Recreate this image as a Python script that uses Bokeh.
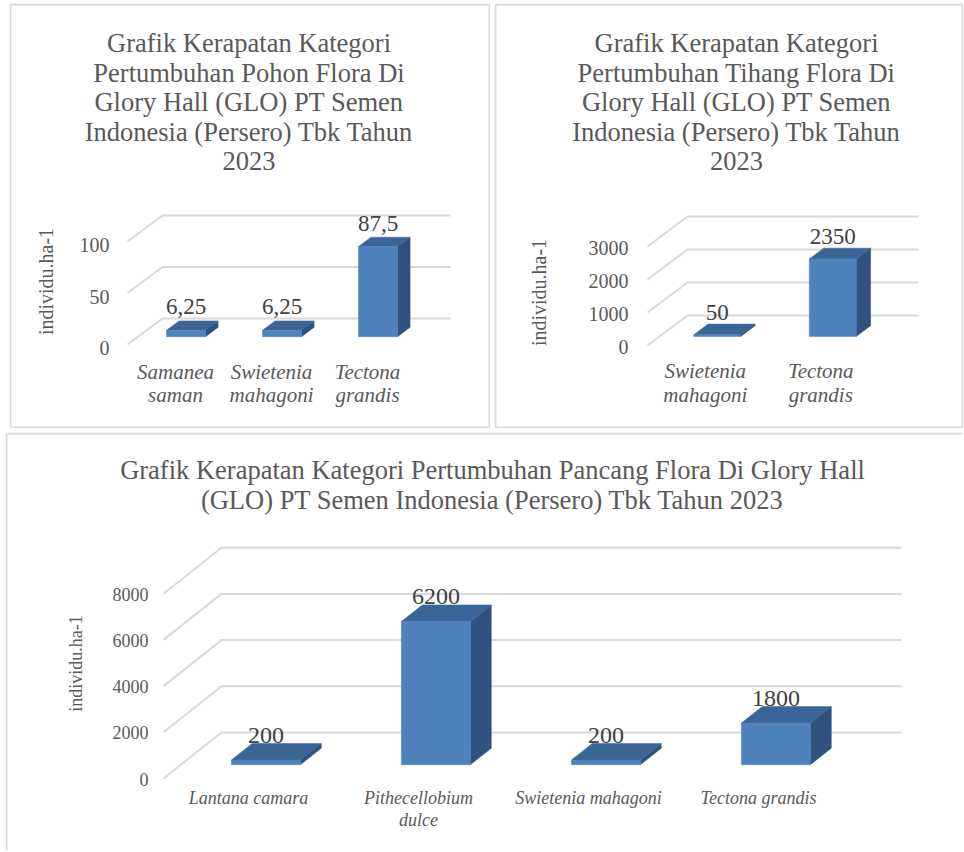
import math
from bokeh.plotting import figure
from bokeh.models import Range1d, Spacer
from bokeh.layouts import column, row
from bokeh.core.properties import value
from bokeh.embed import file_html
from bokeh.resources import INLINE

# ---------------- data ----------------
pohon_categories = ["Samanea\nsaman", "Swietenia\nmahagoni", "Tectona\ngrandis"]
pohon_values = [6.25, 6.25, 87.5]
pohon_value_labels = ["6,25", "6,25", "87,5"]
pohon_ticks = [0, 50, 100]
pohon_title = ["Grafik Kerapatan Kategori", "Pertumbuhan Pohon Flora Di",
               "Glory Hall (GLO) PT Semen", "Indonesia (Persero) Tbk Tahun", "2023"]

tihang_categories = ["Swietenia\nmahagoni", "Tectona\ngrandis"]
tihang_values = [50, 2350]
tihang_value_labels = ["50", "2350"]
tihang_ticks = [0, 1000, 2000, 3000]
tihang_title = ["Grafik Kerapatan Kategori", "Pertumbuhan Tihang Flora Di",
                "Glory Hall (GLO) PT Semen", "Indonesia (Persero) Tbk Tahun", "2023"]

pancang_categories = ["Lantana camara", "Pithecellobium\ndulce", "Swietenia mahagoni", "Tectona grandis"]
pancang_values = [200, 6200, 200, 1800]
pancang_value_labels = ["200", "6200", "200", "1800"]
pancang_ticks = [0, 2000, 4000, 6000, 8000]
pancang_title = ["Grafik Kerapatan Kategori Pertumbuhan Pancang Flora Di Glory Hall",
                 "(GLO) PT Semen Indonesia (Persero) Tbk Tahun 2023"]

y_axis_title = "individu.ha-1"

# ---------------- style ----------------
FONT = "Liberation Serif"
GRAY = "#595959"
DARK = "#404040"
GRID = "#D9D9D9"
FRONT = "#4F81BD"
SIDE = "#30527F"
TOP = "#3C6597"
F0, F1, BW = 0.30, 0.66, 0.406


def panel(origin, size, front_left, front_y0, catw, ppu, dx, dy,
          cats, values, vlabels, ticks, title_lines, title_cx, title_ys,
          tick_right, tick_fs, tick_dy, ax_pos, ax_fs, cat_ys, cat_fs,
          data_fs, data_off, borders=("l", "r", "t", "b"), title_fs=26.5):
    ox, oy = origin
    W, H = size
    n = len(cats)

    def xd(px):
        return -0.5 + (px - front_left) / catw

    def yd(py):
        return (front_y0 - py) / ppu

    p = figure(width=W, height=H,
               x_range=Range1d(xd(ox), xd(ox + W)),
               y_range=Range1d(yd(oy + H), yd(oy)),
               min_border=0, x_axis_location=None, y_axis_location=None,
               output_backend="svg", toolbar_location=None,
               outline_line_color=None,
               background_fill_color="white", border_fill_color="white")
    p.grid.visible = False

    # chart border
    bx, by = [], []
    L, R, T, B = xd(ox + 1), xd(ox + W - 1), yd(oy + 1), yd(oy + H - 1)
    if "l" in borders:
        bx.append([L, L]); by.append([T, B])
    if "r" in borders:
        bx.append([R, R]); by.append([T, B])
    if "t" in borders:
        bx.append([L, R]); by.append([T, T])
    if "b" in borders:
        bx.append([L, R]); by.append([B, B])
    p.multi_line(bx, by, line_color=GRID, line_width=2)

    DXd = dx / catw
    DYd = dy / ppu
    # back wall gridlines with side-wall diagonals
    gx = [[-0.5, -0.5 + DXd, n - 0.5 + DXd] for _ in ticks]
    gy = [[v, v + DYd, v + DYd] for v in ticks]
    p.multi_line(gx, gy, line_color=GRID, line_width=2)

    # 3D bars
    cx = [i + F0 * DXd for i in range(n)]
    ddx = (F1 - F0) * DXd
    ddy = (F1 - F0) * DYd
    bot = F0 * DYd
    lefts = [c - BW / 2 for c in cx]
    rights = [c + BW / 2 for c in cx]
    tops = [v + bot for v in values]
    side_x = [[r, r + ddx, r + ddx, r] for r in rights]
    side_y = [[bot, bot + ddy, t + ddy, t] for t in tops]
    top_x = [[l, r, r + ddx, l + ddx] for l, r in zip(lefts, rights)]
    top_y = [[t, t, t + ddy, t + ddy] for t in tops]
    p.patches(side_x, side_y, fill_color=SIDE, line_color=SIDE, line_width=0.5)
    p.patches(top_x, top_y, fill_color=TOP, line_color=TOP, line_width=0.5)
    p.quad(left=lefts, right=rights, bottom=bot, top=tops,
           fill_color=FRONT, line_color=FRONT, line_width=0.5)

    # data labels
    p.text(x=cx, y=[t + ddy + data_off / ppu for t in tops], text=vlabels,
           text_align="center", text_baseline="middle",
           text_font=value(FONT), text_font_size=value(f"{data_fs}px"),
           text_color=DARK)

    # value axis tick labels
    p.text(x=[xd(tick_right)] * len(ticks), y=[v - tick_dy / ppu for v in ticks],
           text=[str(v) for v in ticks],
           text_align="right", text_baseline="middle",
           text_font=value(FONT), text_font_size=value(f"{tick_fs}px"),
           text_color=GRAY)

    # value axis title
    p.text(x=[xd(ax_pos[0])], y=[yd(ax_pos[1])], text=[y_axis_title],
           angle=math.pi / 2, text_align="center", text_baseline="middle",
           text_font=value(FONT), text_font_size=value(f"{ax_fs}px"),
           text_color=GRAY)

    # category labels
    lx, ly, lt = [], [], []
    for i, c in enumerate(cats):
        for k, part in enumerate(c.split("\n")):
            lx.append(i); ly.append(yd(cat_ys[k])); lt.append(part)
    p.text(x=lx, y=ly, text=lt, text_align="center", text_baseline="middle",
           text_font=value(FONT), text_font_size=value(f"{cat_fs}px"),
           text_font_style="italic", text_color=GRAY)

    # chart title
    p.text(x=[xd(title_cx)] * len(title_lines), y=[yd(t) for t in title_ys[:len(title_lines)]],
           text=title_lines, text_align="center", text_baseline="middle",
           text_font=value(FONT), text_font_size=value(f"{title_fs}px"),
           text_color=GRAY)
    return p


title_rows = [42.5, 72, 101.5, 131, 160.5]

p1 = panel((9, 3), (481, 425), 127, 344, 96, 1.03, 35, 26,
           pohon_categories, pohon_values, pohon_value_labels, pohon_ticks,
           pohon_title, 248.5, title_rows,
           tick_right=109, tick_fs=20, tick_dy=3.5, ax_pos=(45, 281), ax_fs=20,
           cat_ys=(371, 394), cat_fs=21, data_fs=23, data_off=14)

p2 = panel((494, 3), (469, 425), 647, 345, 115.5, 0.033, 40, 30,
           tihang_categories, tihang_values, tihang_value_labels, tihang_ticks,
           tihang_title, 736, title_rows,
           tick_right=628, tick_fs=20, tick_dy=1.5, ax_pos=(538, 292), ax_fs=20,
           cat_ys=(370, 394), cat_fs=21, data_fs=23, data_off=12)

p3 = panel((5, 432), (958, 419), 163, 778, 170, 0.0231, 58, 46,
           pancang_categories, pancang_values, pancang_value_labels, pancang_ticks,
           pancang_title, 492, [469.5, 499.5],
           tick_right=148, tick_fs=18, tick_dy=0.5, ax_pos=(75, 663), ax_fs=18,
           cat_ys=(797, 819), cat_fs=18, data_fs=24, data_off=8,
           borders=("l", "t"))

layout = column(
    Spacer(height=3),
    row(Spacer(width=9), p1, Spacer(width=4), p2),
    Spacer(height=4),
    row(Spacer(width=5), p3),
)
open("out.html", "w").write(file_html(layout, INLINE))
